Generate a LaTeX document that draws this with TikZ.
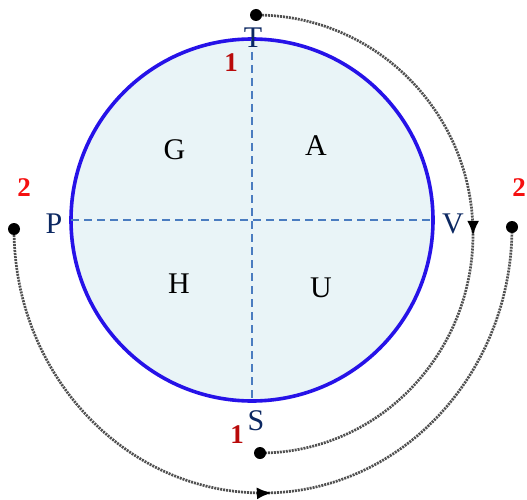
\documentclass[tikz,border=0pt]{standalone}
\usepackage{fontspec}
\setmainfont{Liberation Serif}
\usetikzlibrary{arrows.meta,decorations.markings}
\definecolor{navy}{RGB}{12,40,98}
\definecolor{darkred}{RGB}{185,10,10}
\definecolor{brightred}{RGB}{245,15,15}
\definecolor{ringblue}{RGB}{38,18,232}
\definecolor{dashblue}{RGB}{74,124,192}
\definecolor{fillcyan}{RGB}{233,244,247}
\definecolor{pathgray}{RGB}{80,80,80}
\begin{document}
\begin{tikzpicture}[x=1pt,y=1pt,
  pole/.style={text=navy,font=\fontsize{30}{36}\selectfont,anchor=base,inner sep=0pt},
  quad/.style={text=black,font=\fontsize{30}{36}\selectfont,anchor=base,inner sep=0pt},
  one/.style={text=darkred,font=\fontsize{27}{32}\selectfont\bfseries,anchor=base,inner sep=0pt},
  two/.style={text=brightred,font=\fontsize{27}{32}\selectfont\bfseries,anchor=base,inner sep=0pt},
  enddot/.style={circle,fill=black,inner sep=0pt,minimum size=12pt},
  axisline/.style={dash pattern=on 8pt off 5pt,line width=2.2pt,draw=dashblue},
  route/.style={draw=pathgray,line width=2.7pt,dash pattern=on 2pt off 1pt},
  midarrow/.style={postaction={decorate},decoration={markings,
     mark=at position #1 with {\arrow[black]{Latex[length=15pt,width=12pt]}}}}
]
\useasboundingbox (0,0) rectangle (527,499);
% main circle
\node[circle,draw=ringblue,line width=3.6pt,fill=fillcyan,minimum size=362pt,inner sep=0pt,outer sep=0pt] (C) at (252,279) {};
\draw[axisline] (C.north) -- (C.south);
\draw[axisline] (C.west) -- (C.east);
% labels
\node[pole] (T) at (253,451) {T};
\node[pole] (S) at (256,69) {S};
\node[pole] (P) at (54,266) {P};
\node[pole] (V) at (453,266) {V};
\node[quad] (G) at (174.5,340) {G};
\node[quad] (A) at (316,344) {A};
\node[quad] (H) at (179,206) {H};
\node[quad] (U) at (321,202) {U};
\node[one] (n1a) at (231,427) {1};
\node[one] (n1b) at (237,56) {1};
\node[two] (n2a) at (24,303) {2};
\node[two] (n2b) at (519,303) {2};
% end points
\coordinate (pT) at (256,484);
\coordinate (pB) at (260,46);
\coordinate (pL) at (14,270);
\coordinate (pR) at (512,272);
% routes
\draw[route,midarrow=0.505] (pT) arc[start angle=90,end angle=0,x radius=217,y radius=219]
   arc[start angle=0,end angle=-90,x radius=213,y radius=219];
\draw[route,midarrow=0.51] (pL) arc[start angle=180,end angle=270,x radius=249,y radius=264]
   arc[start angle=270,end angle=360,x radius=249,y radius=266];
% end dots on top
\node[enddot] (dT) at (pT) {};
\node[enddot] (dB) at (pB) {};
\node[enddot] (dL) at (pL) {};
\node[enddot] (dR) at (pR) {};
\end{tikzpicture}
\end{document}
